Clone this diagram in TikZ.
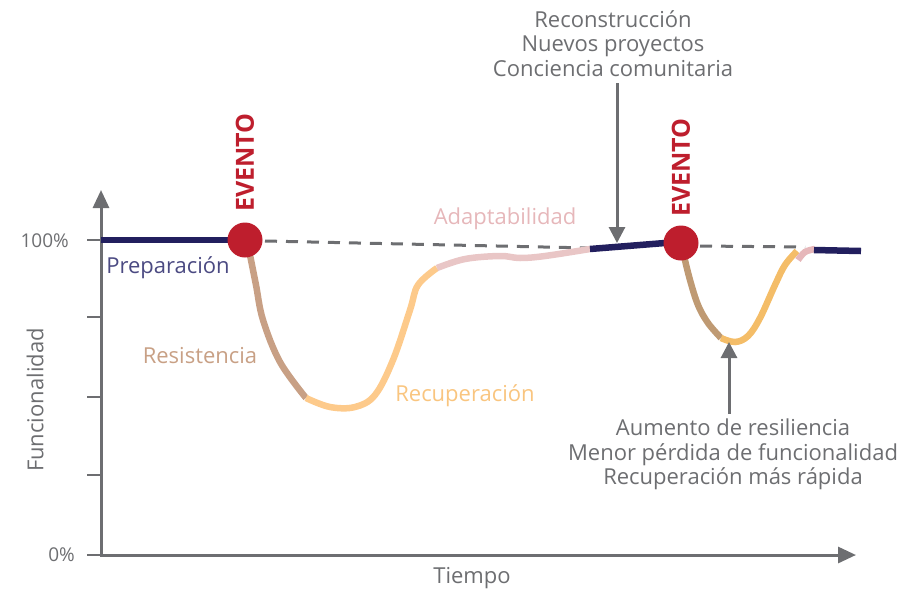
\documentclass[tikz,border=0pt]{standalone}
\usepackage{fontspec}
\setmainfont{Open Sans}
\usetikzlibrary{arrows.meta}
\definecolor{axisgrey}{HTML}{6D6E71}
\definecolor{navy}{HTML}{221F5E}
\definecolor{evred}{HTML}{BE1E2D}
\definecolor{tanA}{HTML}{C8A085}
\definecolor{yelA}{HTML}{FDCA8B}
\definecolor{pinkA}{HTML}{E9C6C6}
\definecolor{tanB}{HTML}{BF9A73}
\definecolor{yelB}{HTML}{F4BD68}
\definecolor{pinkB}{HTML}{E6B7BA}
\definecolor{txtgrey}{HTML}{6D6E71}
\definecolor{preptxt}{HTML}{4B4A82}
\definecolor{recuptxt}{HTML}{F9C57F}
\begin{document}
\begin{tikzpicture}[x=1pt,y=-1pt,
  axis/.style={draw=axisgrey,line width=3pt},
  tickmark/.style={draw=axisgrey,line width=2.5pt},
  curve/.style={line width=6.5pt},
  dashline/.style={draw=axisgrey,line width=3pt,dash pattern=on 12pt off 9pt},
  label/.style={font=\fontsize{22}{28}\selectfont,text=txtgrey,inner sep=0pt},
  small/.style={font=\fontsize{19}{22}\selectfont,text=txtgrey,inner sep=0pt},
  evtext/.style={font=\fontsize{25}{28}\selectfont\bfseries,text=evred,rotate=90,inner sep=0pt},
  evdot/.style={circle,fill=evred,minimum size=35pt,inner sep=0pt},
  pointer/.style={draw=axisgrey,line width=3pt,-{Triangle[length=16pt,width=16pt]}}
]
\useasboundingbox (0,0) rectangle (919,590);

% axes
\coordinate (origin) at (101,555);
\coordinate (ytip) at (101,190);
\coordinate (xtip) at (856,555);
\draw[axis,-{Triangle[length=18pt,width=16pt]}] (101,556.5) -- (ytip);
\draw[axis,-{Triangle[length=18pt,width=16pt]}] (99.5,555) -- (xtip);
\foreach \yy in {240,317,397,475,555}
  \draw[tickmark] (87,\yy) -- (101,\yy);

\node[small,anchor=east] (p100) at (69,241) {100\%};
\node[small,anchor=east] (p0) at (75,555) {0\%};
\node[label,rotate=90] (funcy) at (35,400) {Funcionalidad};
\node[label] (tiempo) at (472,578) {Tiempo};

% dashed reference
\draw[dashline] (265,241) -- (590,248);
\draw[dashline] (700,246) -- (805,247);

% first cycle
\draw[curve,navy] (101,240) -- (240,240);
\draw[curve,tanA] plot[smooth,tension=0.6] coordinates {(250,255) (256,285) (263,320) (280,362) (306,398)};
\draw[curve,yelA] plot[smooth,tension=0.6] coordinates {(306,398) (330,407) (355,407) (375,395) (393,360) (410,310) (418,285) (437,268)};
\draw[curve,pinkA] plot[smooth,tension=0.6] coordinates {(437,268) (465,259) (500,256) (520,258) (545,256) (590,249)};
\draw[curve,navy] (590,249) -- (665,243);

% second cycle
\draw[curve,tanB] plot[smooth,tension=0.6] coordinates {(684,256) (690,280) (698,305) (708,323) (721,338)};
\draw[curve,yelB] plot[smooth,tension=0.6] coordinates {(721,338) (735,342) (748,336) (760,318) (775,285) (785,265) (797,251)};
\draw[curve,pinkB] plot[smooth,tension=0.6] coordinates {(798,260) (805,252) (815,249)};
\draw[curve,navy] (814,250) -- (861,251);

% events
\node[evdot] (ev1) at (245,240) {};
\node[evdot] (ev2) at (681,243) {};
\node[evtext,anchor=west] (evt1) at (245,212) {EVENTO};
\node[evtext,anchor=west] (evt2) at (681,217) {EVENTO};

% phase labels
\node[label,text=preptxt] (prep) at (168,268) {Preparación};
\node[label,text=tanA] (resis) at (200,356) {Resistencia};
\node[label,text=recuptxt] (recup) at (465,396) {Recuperación};
\node[label,text=pinkB] (adapt) at (505,219) {Adaptabilidad};

% annotations
\node[label,align=center,anchor=north,font=\fontsize{22}{24.5}\selectfont] (topnote) at (613,10) {Reconstrucción\\Nuevos proyectos\\Conciencia comunitaria};
\coordinate (toptip) at (617,243);
\draw[pointer] (617,83) -- (toptip);

\node[label,align=center,anchor=north,font=\fontsize{22}{24.5}\selectfont] (botnote) at (733,419) {Aumento de resiliencia\\Menor pérdida de funcionalidad\\Recuperación más rápida};
\coordinate (bottip) at (729,342);
\draw[pointer] (729,414) -- (bottip);
\end{tikzpicture}
\end{document}
